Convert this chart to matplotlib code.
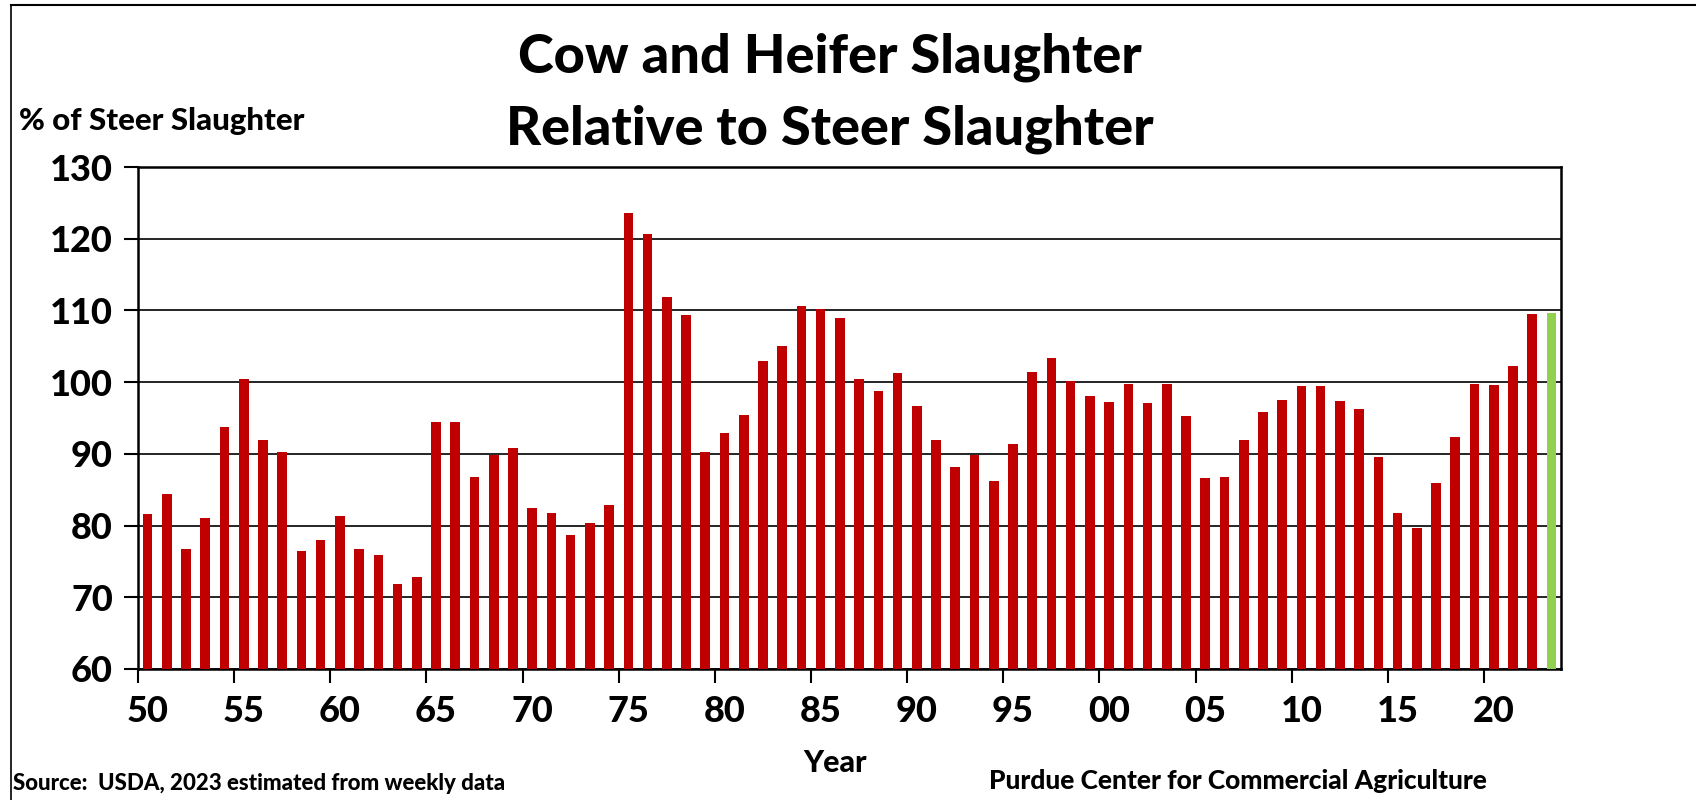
import numpy as np
import matplotlib.pyplot as plt
from matplotlib.lines import Line2D

years = list(range(1950, 2024))
values = [81.6, 84.4, 76.8, 81.0, 93.8, 100.4, 91.9, 90.3, 76.4, 78.0,
          81.3, 76.7, 75.9, 71.8, 72.8, 94.4, 94.4, 86.8, 89.8, 90.8,
          82.5, 81.7, 78.7, 80.3, 82.9, 123.6, 120.7, 111.9, 109.3, 90.2,
          92.9, 95.4, 102.9, 105.0, 110.6, 110.2, 108.9, 100.5, 98.8, 101.3,
          96.7, 91.9, 88.2, 89.8, 86.2, 91.4, 101.4, 103.3, 100.2, 98.1,
          97.3, 99.8, 97.1, 99.7, 95.3, 86.6, 86.8, 92.0, 95.9, 97.5,
          99.5, 99.5, 97.4, 96.3, 89.6, 81.7, 79.7, 85.9, 92.4, 99.8,
          99.6, 102.3, 109.5, 109.6]
tick_years = list(range(1950, 2021, 5))
tick_labels = ['%02d' % (y % 100) for y in tick_years]

red = '#c00000'
green = '#92d050'
font = 'Lato'
wt = 'black'

fig = plt.figure(figsize=(16.96, 8), dpi=100)
ax = fig.add_axes([138/1696, 1 - 669/800, (1561-138)/1696, (669-167)/800])

x = np.arange(len(years))
colors = [red] * (len(years) - 1) + [green]
ax.bar(x, values, width=0.5, color=colors, zorder=3)

ax.set_xlim(-0.5, len(years) - 0.5)
ax.set_ylim(60, 130)
ax.set_yticks(range(60, 131, 10))
ax.yaxis.grid(True, color='black', lw=1.2, zorder=1)

# ticks at category boundaries, labels centred on the category
ax.set_xticks([years.index(y) - 0.5 for y in tick_years])
ax.set_xticklabels([])
ax.set_xticks([years.index(y) for y in tick_years], minor=True)
ax.set_xticklabels(tick_labels, minor=True)
ax.tick_params(axis='x', which='major', direction='out', length=10, width=1.5)
ax.tick_params(axis='x', which='minor', length=0, pad=19)
ax.tick_params(axis='y', direction='out', length=10, width=1.5, pad=8)
for lab in ax.get_xticklabels(minor=True) + ax.get_yticklabels():
    lab.set_fontfamily(font)
    lab.set_fontweight(wt)
    lab.set_fontsize(26)
for s in ax.spines.values():
    s.set_linewidth(1.8)

fig.text(830/1696, 1 - 57/800, 'Cow and Heifer Slaughter', ha='center', va='center',
         fontsize=39, fontweight=wt, family=font)
fig.text(830/1696, 1 - 129/800, 'Relative to Steer Slaughter', ha='center', va='center',
         fontsize=39, fontweight=wt, family=font)
fig.text(19/1696, 1 - 121/800, '% of Steer Slaughter', ha='left', va='center',
         fontsize=22.5, fontweight=wt, family=font)
fig.text(835/1696, 1 - 763/800, 'Year', ha='center', va='center',
         fontsize=22, fontweight=wt, family=font)
fig.text(13/1696, 1 - 783/800, 'Source:  USDA, 2023 estimated from weekly data', ha='left',
         va='center', fontsize=16, fontweight=wt, family=font)
fig.text(1238/1696, 1 - 781/800, 'Purdue Center for Commercial Agriculture', ha='center',
         va='center', fontsize=19, fontweight=wt, family=font)

# outer frame (top and left edges)
fig.add_artist(Line2D([11/1696, 11/1696], [0, 1 - 5/800], transform=fig.transFigure,
                      color='black', lw=1.2))
fig.add_artist(Line2D([11/1696, 1], [1 - 5/800, 1 - 5/800], transform=fig.transFigure,
                      color='black', lw=1.5))

fig.savefig('out.png', dpi=100)
